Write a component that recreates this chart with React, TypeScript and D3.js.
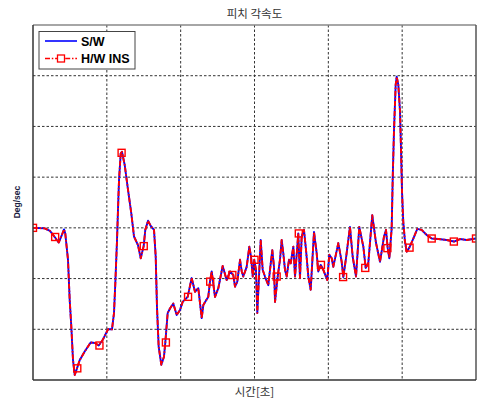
import React from "react";
import * as d3 from "d3";

// Pitch rate, time [s] vs deg/sec
const timeSec = [
  0, 1.58, 2.3, 2.94, 3.48, 3.86, 4.2, 4.37, 4.74, 4.97, 5.19, 5.42, 5.65, 5.96, 6.32, 7.0, 7.81, 8.4, 8.9, 9.48,
  10.16, 10.7, 10.97, 11.15, 11.38, 11.51, 11.65, 11.88, 12.05, 12.42, 12.87, 13.31, 13.68, 14.22, 14.59, 14.99,
  15.21, 15.58, 15.94, 16.39, 16.62, 16.79, 17.02, 17.38, 17.74, 17.92, 18.24, 18.55, 19.0, 19.46, 19.91, 20.27,
  20.95, 21.49, 21.94, 22.39, 22.85, 23.07, 23.74, 23.97, 24.2, 24.65, 25.1, 25.69, 26.23, 26.68, 27.13, 27.36,
  27.67, 28.04, 28.27, 28.48, 28.94, 29.3, 29.53, 29.76, 29.97, 30.2, 30.38, 30.61, 30.84, 31.11, 31.42, 31.87,
  32.1, 32.41, 32.64, 32.78, 33.14, 33.45, 33.68, 33.9, 34.13, 34.36, 34.67, 34.9, 35.26, 35.49, 35.93, 36.16,
  36.39, 36.7, 36.98, 37.29, 37.61, 38.06, 38.42, 38.64, 38.97, 39.32, 39.86, 40.13, 40.46, 40.67, 41.35, 41.81,
  42.03, 42.39, 42.93, 43.3, 43.75, 44.19, 44.74, 45.06, 45.41, 45.95, 46.46, 47.0, 47.54, 47.81, 48.04, 48.26,
  48.58, 48.72, 48.89, 49.12, 49.26, 49.48, 49.71, 49.84, 49.98, 50.15, 50.38, 50.61, 50.97, 51.51, 52.05, 52.64,
  53.32, 54.0, 54.89, 56.03, 57.02, 57.83, 58.74, 60.0,
];

const swRate = [
  0, -0.1, -0.6, -1.8, -2.9, -1.6, -0.3, -1.1, -6.3, -14.2, -19.5, -26.1, -29.0, -27.7, -26.1, -24.4, -22.6, -22.7,
  -23.2, -22.0, -20.0, -20.0, -16.8, -10.9, -2.4, 3.5, 9.4, 14.7, 15.0, 12.4, 7.5, 2.9, -1.7, -3.4, -6.0, -3.6, -0.4,
  1.4, 0.4, -0.4, -5.7, -15.5, -23.4, -27.0, -25.4, -22.6, -16.8, -15.9, -14.9, -17.2, -16.2, -14.6, -13.6, -9.9,
  -12.6, -11.9, -17.8, -15.2, -13.6, -10.6, -8.6, -13.6, -11.9, -7.5, -10.3, -8.6, -9.3, -11.6, -10.6, -6.3, -8.6,
  -9.6, -7.7, -3.7, -5.7, -9.6, -6.3, -8.3, -16.8, -9.6, -2.4, -8.3, -9.6, -11.3, -8.3, -4.4, -7.7, -14.6, -9.6,
  -6.3, -2.4, -5.0, -8.3, -9.6, -6.3, -7.0, -3.7, -9.6, -1.1, -9.9, -1.7, -0.4, -4.4, -9.6, -12.2, -0.8, -5.0, -8.6,
  -7.3, -8.3, -10.3, -5.3, -6.0, -7.7, -3.0, -6.7, -9.7, -6.0, 0.2, -5.7, -9.6, 0.2, -3.7, -7.9, -7.0, 2.5, -3.0,
  -6.7, -1.7, -0.4, -4.0, -6.0, -0.1, 9.8, 19.0, 28.2, 29.8, 28.2, 22.9, 15.7, 7.1, 1.2, -2.7, -4.7, -3.9, -2.1,
  -0.2, -0.4, -1.4, -2.1, -2.2, -2.4, -2.7, -2.2, -2.4, -2.1,
];

// H/W INS overlays the S/W trace
const hwInsRate = swRate;

// H/W INS marker samples
const markerTime = [0, 3, 6, 9, 12, 15, 18, 21, 24, 27, 30, 33, 36, 39, 42, 45, 48, 51, 54, 57, 60];
const markerRate = [
  0, -1.8, -27.7, -23.2, 14.8, -3.6, -22.6, -13.6, -10.6, -9.3, -6.3, -9.6, -1.1, -7.3, -9.7, -7.9, -4.0, -3.9,
  -2.1, -2.7, -2.1,
];

const xTicks = [0, 10, 20, 30, 40, 50, 60];
const yTicks = [-30, -20, -10, 0, 10, 20, 30, 40];

const seriesNames = ["S/W", "H/W INS"];

const W = 478;
const H = 400;
const M = { left: 33, right: 2, top: 25, bottom: 20 };

export default function App() {
  const x = d3.scaleLinear().domain([0, 60]).range([M.left, W - M.right]);
  const y = d3.scaleLinear().domain([-30, 40]).range([H - M.bottom, M.top]);

  const line = d3
    .line<number>()
    .x((_, i) => x(timeSec[i]))
    .y((d) => y(d));

  const swPath = line(swRate) || "";
  const hwPath = line(hwInsRate) || "";

  const x0 = x(0);
  const x1 = x(60);
  const y0 = y(-30);
  const y1 = y(40);
  const ms = 7;
  const red = "#ff0000";
  const blue = "#0000ff";
  const dashDot = "5,1.8,1.5,1.8";

  return (
    <svg
      width={W}
      height={H}
      style={{ position: "absolute", left: 0, top: 0, background: "#fff" }}
      fontFamily="Arial, 'Liberation Sans', sans-serif"
    >
      <defs>
        <clipPath id="plotArea">
          <rect x={x0} y={y1} width={x1 - x0} height={y0 - y1} />
        </clipPath>
      </defs>

      {/* grid */}
      {xTicks.slice(1, -1).map((t) => (
        <line key={"gx" + t} x1={x(t)} x2={x(t)} y1={y1} y2={y0} stroke="#333" strokeWidth={1} strokeDasharray="2.5,2" />
      ))}
      {yTicks.slice(1, -1).map((t) => (
        <line key={"gy" + t} x1={x0} x2={x1} y1={y(t)} y2={y(t)} stroke="#333" strokeWidth={1} strokeDasharray="2.5,2" />
      ))}

      {/* traces */}
      <g clipPath="url(#plotArea)">
        <path d={swPath} fill="none" stroke={blue} strokeWidth={1.9} strokeLinejoin="round" />
        <path d={hwPath} fill="none" stroke={red} strokeWidth={1.9} strokeDasharray={dashDot} strokeLinejoin="round" />
        {markerTime.map((t, i) => (
          <rect
            key={"m" + i}
            x={x(t) - ms / 2}
            y={y(markerRate[i]) - ms / 2}
            width={ms}
            height={ms}
            fill="none"
            stroke={red}
            strokeWidth={1.4}
          />
        ))}
      </g>

      {/* frame */}
      <line x1={x0} x2={x1} y1={y1} y2={y1} stroke="#888" strokeWidth={1.5} />
      <line x1={x1} x2={x1} y1={y1} y2={y0} stroke="#555" strokeWidth={1.5} />
      <line x1={x0} x2={x1} y1={y0} y2={y0} stroke="#333" strokeWidth={1.5} />
      <line x1={x0} x2={x0} y1={y1} y2={y0} stroke="#333" strokeWidth={1.5} />

      {/* legend */}
      <g>
        <rect x={39} y={31.5} width={96} height={37.5} fill="#fff" stroke="#444" strokeWidth={1} />
        <line x1={45} x2={77} y1={41} y2={41} stroke={blue} strokeWidth={1.6} />
        <text x={81} y={45.5} fontSize={12.5} fontWeight="bold" fill="#000">
          {seriesNames[0]}
        </text>
        <line x1={45} x2={77} y1={58.5} y2={58.5} stroke={red} strokeWidth={1.6} strokeDasharray={dashDot} />
        <rect x={61 - ms / 2} y={58.5 - ms / 2} width={ms} height={ms} fill="#fff" stroke={red} strokeWidth={1.3} />
        <text x={81} y={63} fontSize={12.5} fontWeight="bold" fill="#000">
          {seriesNames[1]}
        </text>
      </g>

      {/* titles */}
      <text
        x={(x0 + x1) / 2}
        y={18}
        textAnchor="middle"
        fontSize={11.5}
        fill="#333"
        fontFamily="'Noto Sans CJK KR', sans-serif"
      >
        피치 각속도
      </text>
      <text
        x={(x0 + x1) / 2}
        y={396}
        textAnchor="middle"
        fontSize={11.5}
        fill="#333"
        fontFamily="'Noto Sans CJK KR', sans-serif"
      >
        시간[초]
      </text>
      <text
        transform={`translate(20, 202) rotate(-90)`}
        textAnchor="middle"
        fontSize={8.5}
        fontWeight="bold"
        fill="#1a2040"
      >
        Deg/sec
      </text>
    </svg>
  );
}
